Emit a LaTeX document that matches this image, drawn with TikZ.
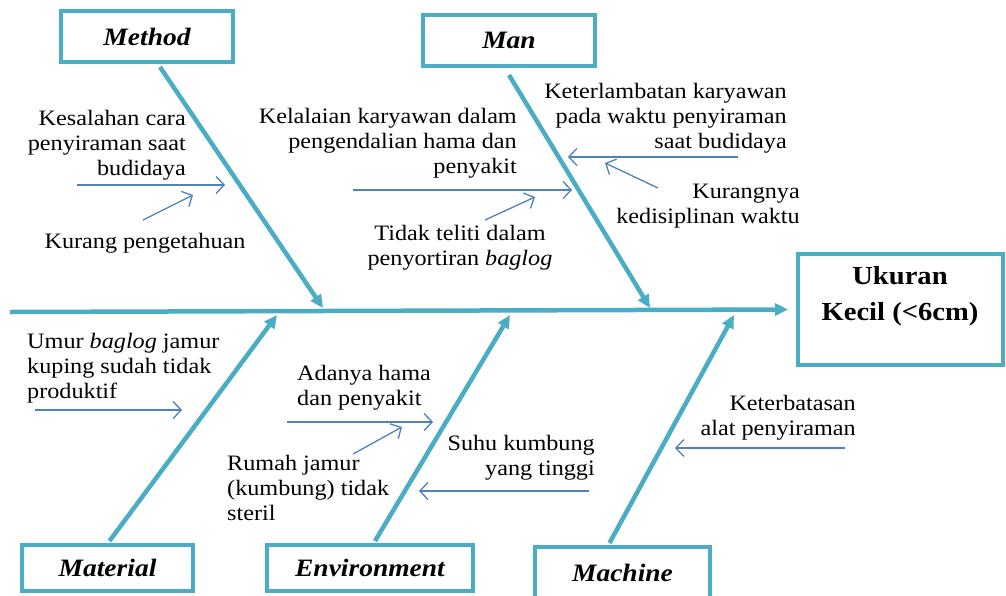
\documentclass[tikz,border=0pt]{standalone}
\usepackage{fontspec}
\setmainfont{Liberation Serif}[FakeStretch=1.1,
  UprightFont=*, BoldFont=* Bold, ItalicFont=* Italic, BoldItalicFont=* Bold Italic]
\usetikzlibrary{arrows.meta}
\definecolor{bonec}{HTML}{4BACC6}
\definecolor{arrc}{HTML}{4F81BD}
\begin{document}
\begin{tikzpicture}[x=1pt,y=-1pt,
  bone/.style={draw=bonec, line width=4.5pt, -{Triangle[length=13pt,width=12pt]}},
  catbox/.style={draw=bonec, line width=4pt, inner sep=0, font=\fontsize{25}{30}\selectfont\bfseries\itshape},
  causearrow/.style={draw=arrc, line width=1.3pt, -{Straight Barb[length=8pt,width=17pt]}},
  cause/.style={inner sep=0, font=\fontsize{22}{25}\selectfont}]
\clip (0,0) rectangle (1006,595);
\fill[white] (0,0) rectangle (1006,595);

% category boxes
\node[catbox, minimum width=172pt, minimum height=51pt] (method) at (147,36.5) {Method};
\node[catbox, minimum width=172pt, minimum height=51pt] (man) at (509,40.5) {Man};
\node[catbox, minimum width=171pt, minimum height=46pt] (material) at (107.5,568) {Material};
\node[catbox, minimum width=206pt, minimum height=46pt] (environment) at (370,568) {Environment};
\node[catbox, minimum width=175pt, minimum height=55pt, text depth=0pt] (machine) at (622.5,574.5) {};
\node[inner sep=0, font=\fontsize{25}{30}\selectfont\bfseries\itshape] (machinetxt) at (622.5,573) {Machine};

% effect box
\node[draw=bonec, line width=4pt, minimum width=205pt, minimum height=111pt, inner sep=0] (effect) at (900.5,309.5) {};
\node[inner sep=0, align=center, font=\fontsize{26}{36}\selectfont\bfseries] (effecttxt) at (900,296) {Ukuran\\Kecil (<6cm)};

% spine
\coordinate (spinestart) at (10,312);
\draw[bone] (spinestart) -- ([xshift=-8pt]effect.west);

% bones
\coordinate (mtip) at (323,308);
\coordinate (ntip) at (650,308);
\coordinate (ttip) at (277,315);
\coordinate (etip) at (510,315);
\coordinate (ctip) at (734,315);
\draw[bone] ([xshift=13pt,yshift=-3pt]method.south) -- (mtip);
\draw[bone] ([yshift=-7pt]man.south) -- (ntip);
\draw[bone] ([xshift=2pt,yshift=2pt]material.north) -- (ttip);
\draw[bone] ([xshift=5pt,yshift=2pt]environment.north) -- (etip);
\draw[bone] ([xshift=-13pt,yshift=2pt]machine.north) -- (ctip);

% Method causes
\node[cause, align=right, anchor=east] (kesalahan) at (186,145) {Kesalahan cara\\penyiraman saat\\budidaya};
\node[cause] (kurang) at (145,243) {Kurang pengetahuan};
\coordinate (m1a) at (77,185); \coordinate (m1b) at (225,185);
\coordinate (m2a) at (143,220); \coordinate (m2b) at (193,195);
\draw[causearrow] (m1a) -- (m1b);
\draw[causearrow] (m2a) -- (m2b);

% Man causes
\node[cause, align=right, anchor=east] (kelalaian) at (517,143) {Kelalaian karyawan dalam\\pengendalian hama dan\\penyakit};
\node[cause, align=center] (tidak) at (460,248) {Tidak teliti dalam\\penyortiran \textit{baglog}};
\node[cause, align=right, anchor=east] (keterlambatan) at (787,118) {Keterlambatan karyawan\\pada waktu penyiraman\\saat budidaya};
\node[cause, align=right, anchor=east] (kurangnya) at (800,206) {Kurangnya\\kedisiplinan waktu};
\coordinate (k1a) at (353,190); \coordinate (k1b) at (572,190);
\coordinate (k2a) at (485,220); \coordinate (k2b) at (535,197);
\coordinate (k3a) at (738,157); \coordinate (k3b) at (568,157);
\coordinate (k4a) at (658,188); \coordinate (k4b) at (605,163);
\draw[causearrow] (k1a) -- (k1b);
\draw[causearrow] (k2a) -- (k2b);
\draw[causearrow] (k3a) -- (k3b);
\draw[causearrow] (k4a) -- (k4b);

% Material causes
\node[cause, align=left, anchor=west] (umur) at (27,368) {Umur \textit{baglog} jamur\\kuping sudah tidak\\produktif};
\coordinate (t1a) at (35,410); \coordinate (t1b) at (182,410);
\draw[causearrow] (t1a) -- (t1b);

% Environment causes
\node[cause, align=left, anchor=west] (adanya) at (297,388) {Adanya hama\\dan penyakit};
\node[cause, align=left, anchor=west] (rumah) at (227,488) {Rumah jamur\\(kumbung) tidak\\steril};
\node[cause, align=right, anchor=east] (suhu) at (595,458) {Suhu kumbung\\yang tinggi};
\coordinate (e1a) at (287,422); \coordinate (e1b) at (433,422);
\coordinate (e2a) at (353,454); \coordinate (e2b) at (402,427);
\coordinate (e3a) at (589,491); \coordinate (e3b) at (419,491);
\draw[causearrow] (e1a) -- (e1b);
\draw[causearrow] (e2a) -- (e2b);
\draw[causearrow] (e3a) -- (e3b);

% Machine causes
\node[cause, align=right, anchor=east] (keterbatasan) at (856,418) {Keterbatasan\\alat penyiraman};
\coordinate (c1a) at (845,448); \coordinate (c1b) at (675,448);
\draw[causearrow] (c1a) -- (c1b);
\end{tikzpicture}
\end{document}
